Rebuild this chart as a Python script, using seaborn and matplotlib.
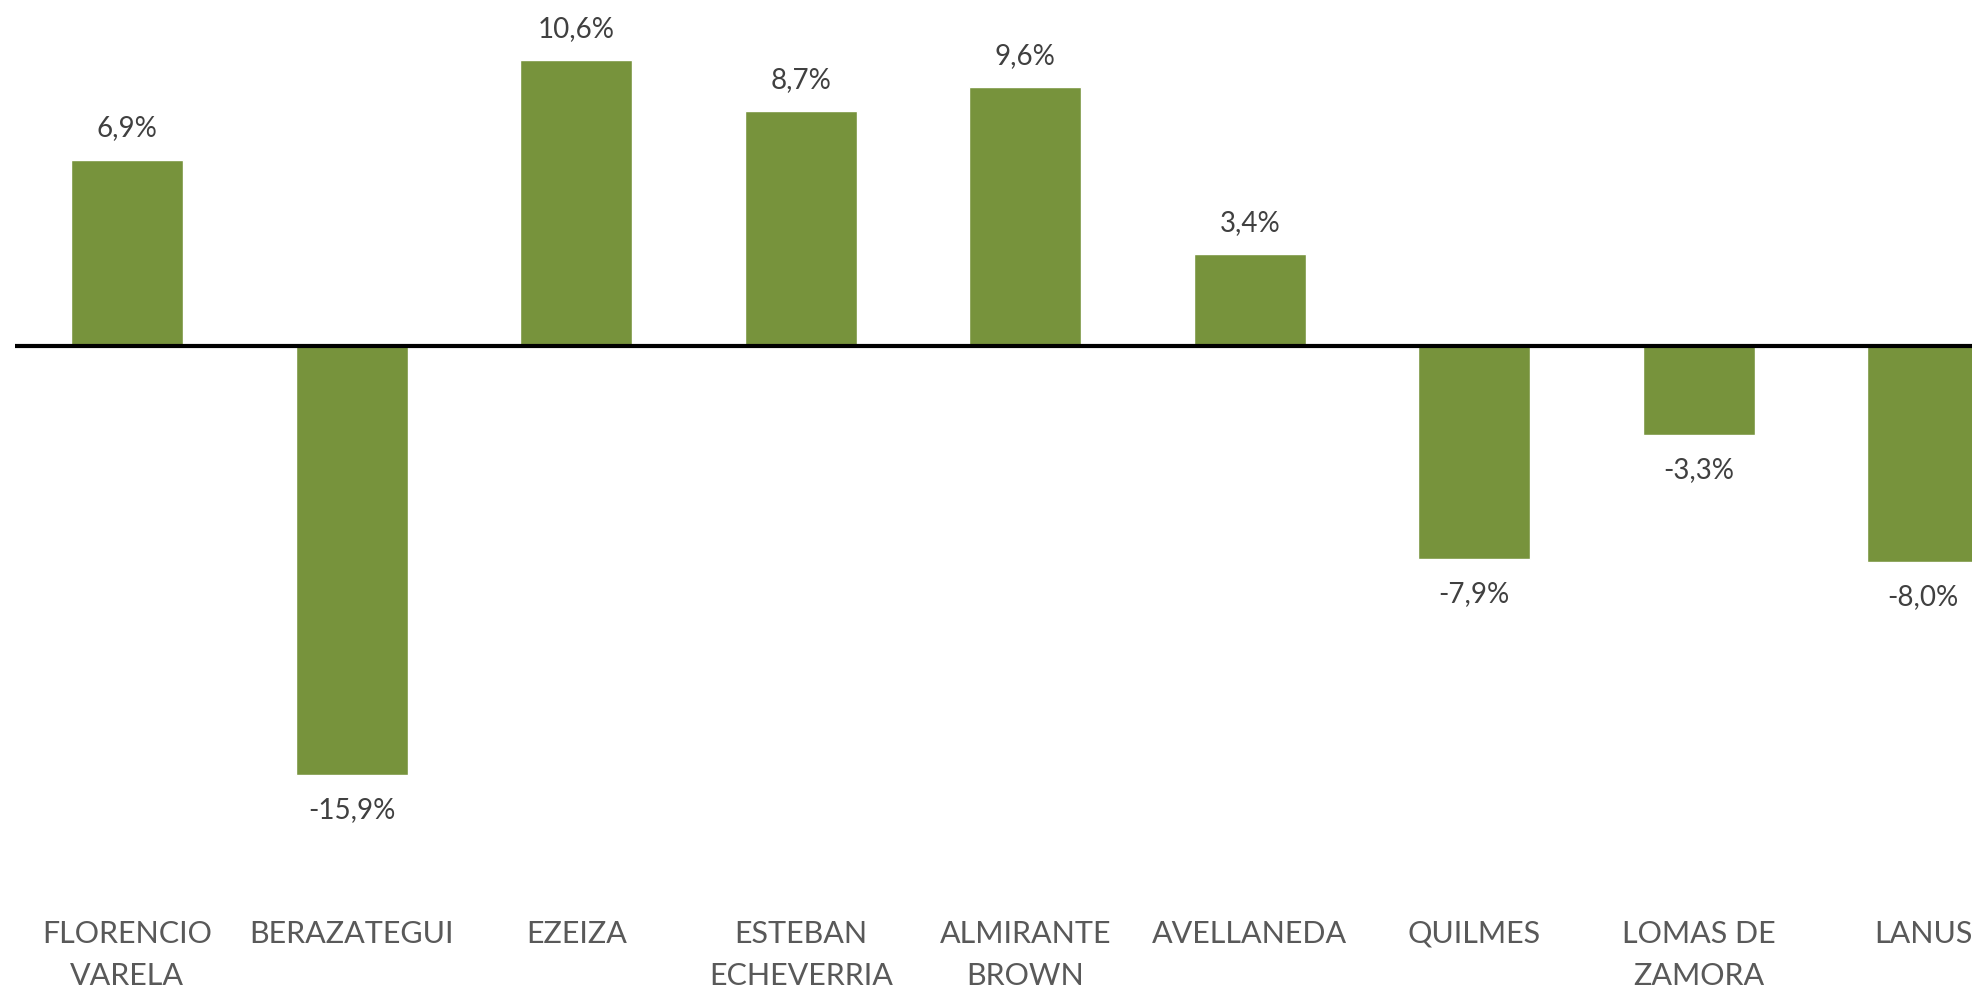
import matplotlib
matplotlib.use("Agg")
import matplotlib.pyplot as plt
import seaborn as sns

categories = [
    "FLORENCIO\nVARELA",
    "BERAZATEGUI",
    "EZEIZA",
    "ESTEBAN\nECHEVERRIA",
    "ALMIRANTE\nBROWN",
    "AVELLANEDA",
    "QUILMES",
    "LOMAS DE\nZAMORA",
    "LANUS",
]
values = [6.9, -15.9, 10.6, 8.7, 9.6, 3.4, -7.9, -3.3, -8.0]

sns.set_style("white")
plt.rcParams["font.family"] = ["Lato", "DejaVu Sans"]

W, H = 1972, 993
fig = plt.figure(figsize=(W / 100, H / 100), dpi=100)
# axes run a bit past the right edge, as in the cropped original
left_px, right_px, top_px, bottom_px = 15, 2035.5, 0, 880
ax = fig.add_axes([left_px / W, 1 - bottom_px / H,
                   (right_px - left_px) / W, (bottom_px - top_px) / H])

green = "#77933C"
sns.barplot(x=list(range(len(values))), y=values, color=green, width=0.5,
            saturation=1, ax=ax)

scale = 27.0  # px per unit
zero_px = 346
ax.set_ylim(-(bottom_px - zero_px) / scale, (zero_px - top_px) / scale)
ax.set_xlim(-0.5, len(values) - 0.5)

ax.axhline(0, color="black", linewidth=3, zorder=3)

for i, v in enumerate(values):
    txt = f"{v:.1f}%".replace(".", ",")
    off = 22.5 if v >= 0 else -25
    ax.annotate(txt, (i, v), xytext=(0, off), textcoords="offset points",
                ha="center", va="center", fontsize=20, color="#404040")

ax.set_xticks(range(len(categories)))
ax.set_xticklabels(categories, fontsize=22, color="#595959", linespacing=1.62)
ax.tick_params(axis="x", length=0, pad=28.5)
ax.set_yticks([])
ax.set_xlabel("")
ax.set_ylabel("")
for s in ax.spines.values():
    s.set_visible(False)

fig.savefig("out.png", dpi=100, facecolor="white")
